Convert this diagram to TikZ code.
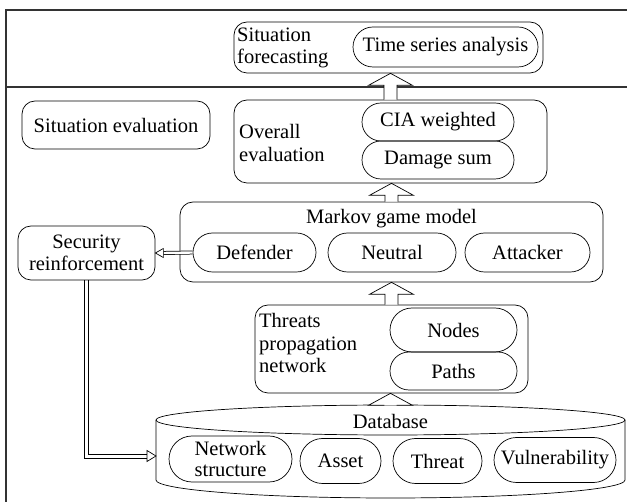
\documentclass[tikz,border=0pt]{standalone}
\usepackage{fontspec}
\setmainfont{Liberation Serif}
\usetikzlibrary{calc,shapes.misc}
\tikzset{
  frameline/.style={line width=1.2pt, draw=black!80},
  boxline/.style={line width=0.7pt, draw=black},
  thinline/.style={line width=0.7pt, draw=black},
  outerbox/.style={boxline, rectangle, rounded corners=13pt, inner sep=0pt},
  pill/.style={boxline, rounded rectangle, inner sep=0pt, align=center},
  lefttext/.style={anchor=west, align=left, inner sep=0pt},
  dblline/.style={line width=0.75pt, double=white, double distance=2.4pt},
}
\newcommand{\blockup}[2]{%
  \draw[boxline, fill=white] let \p1=(#1), \p2=(#2) in
  (\x1-6.5pt,\y1) -- (\x1-6.5pt,\y2-12pt) -- (\x1-22pt,\y2-12pt) -- (\x1,\y2)
  -- (\x1+22pt,\y2-12pt) -- (\x1+6.5pt,\y2-12pt) -- (\x1+6.5pt,\y1);}
\begin{document}
\begin{tikzpicture}[x=1pt, y=-1pt, font=\fontsize{20.5}{22.5}\selectfont]
\useasboundingbox (0,0) rectangle (627,502);
% frame
\draw[frameline] (627,10) -- (6,10) -- (6,502);
\draw[frameline] (6,87) -- (627,87);

% Situation forecasting
\node[outerbox, draw, minimum width=309pt, minimum height=51pt] (fc) at (388.5,47.5) {};
\node[lefttext] (fctxt) at (237,48) {Situation\\forecasting};
\node[pill, draw, minimum width=185pt, minimum height=40pt] (tsa) at (445.5,47) {Time series analysis};

% Situation evaluation
\node[outerbox, draw, minimum width=188pt, minimum height=48pt] (se) at (116,125) {Situation evaluation};

% Overall evaluation
\node[outerbox, draw, minimum width=313pt, minimum height=83pt] (ov) at (390.5,141.5) {};
\node[lefttext] (ovtxt) at (239,143) {Overall\\evaluation};
\node[pill, draw, minimum width=152pt, minimum height=38pt] (cia) at (438,122) {CIA weighted};
\node[pill, draw, minimum width=152pt, minimum height=38pt] (dmg) at (438,160) {Damage sum};

% Markov game model
\node[outerbox, draw, minimum width=423pt, minimum height=80pt] (mk) at (391.5,242) {};
\node[inner sep=0pt] (mktitle) at (391.5,219) {Markov game model};
\node[pill, draw, minimum width=123pt, minimum height=39pt] (def) at (254.5,252.5) {Defender};
\node[pill, draw, minimum width=128pt, minimum height=39pt] (neu) at (392,252.5) {Neutral};
\node[pill, draw, minimum width=125pt, minimum height=39pt] (att) at (527.5,252.5) {Attacker};

% Security reinforcement
\node[outerbox, draw, align=center, minimum width=137pt, minimum height=54pt] (sec) at (86.5,253) {Security\\reinforcement};

% Threats propagation network
\node[outerbox, draw, minimum width=273pt, minimum height=88pt] (th) at (391.5,349) {};
\node[lefttext] (thtxt) at (259,343) {Threats\\propagation\\network};
\node[pill, draw, minimum width=127pt, minimum height=44pt] (nod) at (453.5,330) {Nodes};
\node[pill, draw, minimum width=127pt, minimum height=38pt] (pth) at (453.5,371) {Paths};

% Database cylinder
\draw[boxline, fill=white] (156,420) arc[start angle=180, end angle=360, x radius=234.5, y radius=15]
  arc[start angle=0, end angle=180, x radius=234.5, y radius=15] -- cycle;
\draw[boxline] (156,420) -- (156,480) arc[start angle=180, end angle=0, x radius=234.5, y radius=18] -- (625,420);
\coordinate (dbtop) at (390.5,405);
\coordinate (dbleft) at (156,456);
\node[inner sep=0pt] (dbtxt) at (390.5,421) {Database};
\node[pill, draw, minimum width=123pt, minimum height=46pt] (net) at (230.5,459) {Network\\[-2pt]structure};
\node[pill, draw, minimum width=81pt, minimum height=45pt] (ast) at (340.5,461) {Asset};
\node[pill, draw, minimum width=89pt, minimum height=45pt] (thr) at (437.5,461) {Threat};
\node[pill, draw, minimum width=122pt, minimum height=45pt] (vul) at (555,460) {Vulnerability};

% block arrows
\blockup{ov.north}{fc.south}
\blockup{mk.north}{ov.south}
\blockup{th.north}{mk.south}
\blockup{dbtop}{th.south}

% double arrow: Defender -> Security reinforcement
\draw[dblline] (def.west) -- ($(sec.east)+(8pt,0)$);
\draw[boxline, fill=white] (sec.east) -- ++(8pt,4.5pt) -- ++(0,-9pt) -- cycle;
% double arrow: Security reinforcement -> Database
\coordinate (corner) at (sec.south |- dbleft);
\coordinate (tipbase) at ($(dbleft)+(-9pt,0)$);
\draw[thinline] ($(sec.south)+(-2pt,0)$) -- ($(corner)+(-2pt,-2pt)$) -- ($(tipbase)+(0,-2pt)$);
\draw[thinline] ($(sec.south)+(2pt,0)$) -- ($(corner)+(2pt,2pt)$) -- ($(tipbase)+(0,2pt)$);
\draw[boxline, fill=white] (dbleft) -- ++(-9pt,5.5pt) -- ++(0,-11pt) -- cycle;
\end{tikzpicture}
\end{document}
